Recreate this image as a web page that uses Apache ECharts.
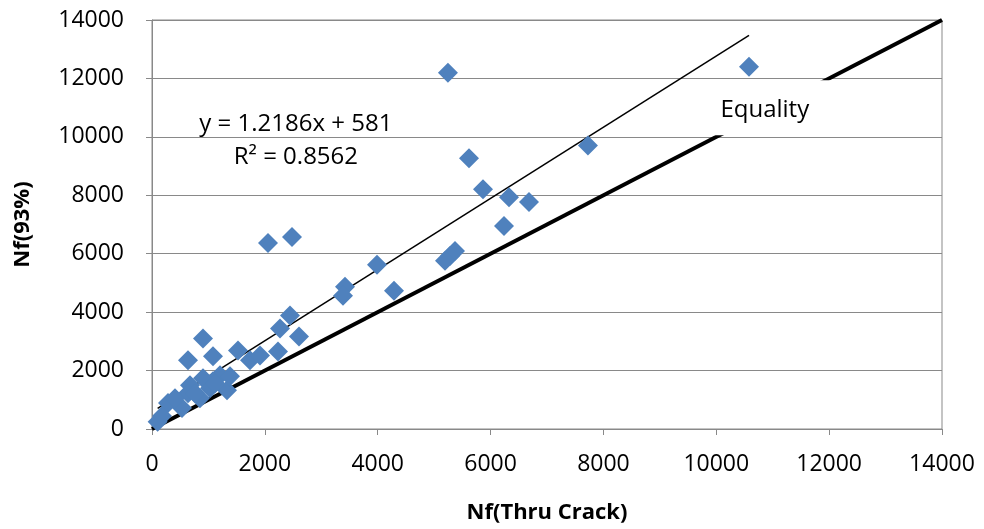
<!DOCTYPE html>
<html>
<head>
<meta charset="utf-8">
<script src="https://cdn.jsdelivr.net/npm/echarts@6/dist/echarts.min.js"></script>
<style>html,body{margin:0;padding:0;background:#fff}#c{width:984px;height:529px}</style>
</head>
<body>
<div id="c"></div>
<script>
// Nf(Thru Crack), Nf(93%)
const thruCrack = [10580, 5245, 7726, 5618, 5866, 6327, 6681, 6238, 2056, 2481, 5370, 5281, 5192, 3987, 3420, 3385, 4289, 2446, 2268, 2605, 904, 638, 1081, 1524, 1737, 1914, 2233, 673, 1205, 1081, 1329, 904, 100, 284, 532, 638, 850, 1028, 408, 177, 762, 1116, 1382];
const nf93 = [12398, 12194, 9707, 9264, 8208, 7936, 7766, 6948, 6369, 6574, 6097, 5926, 5756, 5620, 4871, 4564, 4734, 3883, 3440, 3168, 3100, 2350, 2486, 2691, 2350, 2520, 2657, 1499, 1839, 1635, 1328, 1737, 250, 886, 715, 1226, 1056, 1397, 1056, 443, 1226, 1567, 1805];
const trendSlope = 1.2186;
const trendIntercept = 581;
const trendRange = [100, 10580];
const equalityRange = [0, 14000];
const axisTicks = [0, 2000, 4000, 6000, 8000, 10000, 12000, 14000];

const points = thruCrack.map((x, i) => [x, nf93[i]]);
const trend = trendRange.map(x => [x, trendSlope * x + trendIntercept]);
const equality = equalityRange.map(x => [x, x]);
const font = '"Open Sans", "Noto Sans", sans-serif';

const chart = echarts.init(document.getElementById('c'));
chart.setOption({
  animation: false,
  backgroundColor: '#fff',
  grid: { left: 152, right: 42, top: 20, bottom: 98, show: true, borderColor: '#898989', borderWidth: 1 },
  xAxis: {
    type: 'value', min: axisTicks[0], max: axisTicks[axisTicks.length - 1], interval: 2000,
    name: 'Nf(Thru Crack)', nameLocation: 'middle', nameGap: 73,
    nameTextStyle: { fontFamily: font, fontWeight: 'bold', fontSize: 22, color: '#000' },
    axisLine: { lineStyle: { color: '#898989', width: 1 } },
    axisTick: { show: true, length: 6, lineStyle: { color: '#898989' } },
    axisLabel: { fontFamily: font, fontSize: 23, color: '#000', margin: 24, formatter: v => String(v) },
    splitLine: { show: false }
  },
  yAxis: {
    type: 'value', min: axisTicks[0], max: axisTicks[axisTicks.length - 1], interval: 2000,
    name: 'Nf(93%)', nameLocation: 'middle', nameGap: 118, nameRotate: 90,
    nameTextStyle: { fontFamily: font, fontWeight: 'bold', fontSize: 22, color: '#000' },
    axisLine: { show: true, lineStyle: { color: '#898989', width: 1 } },
    axisTick: { show: true, length: 6, lineStyle: { color: '#898989' } },
    axisLabel: { fontFamily: font, fontSize: 23, color: '#000', margin: 28, formatter: v => String(v) },
    splitLine: { show: true, lineStyle: { color: '#898989', width: 1 } }
  },
  series: [
    {
      type: 'line', data: equality, symbol: 'none', z: 2,
      lineStyle: { color: '#000', width: 4 },
      markPoint: {
        symbol: 'rect', symbolSize: [236, 55],
        itemStyle: { color: '#fff' },
        data: [{ coord: [11870, 11000] }],
        label: { show: true, formatter: 'Equality', position: 'inside', offset: [-57, 3],
          fontFamily: font, fontSize: 24, color: '#000' }
      }
    },
    {
      type: 'line', data: trend, symbol: 'none', z: 3,
      lineStyle: { color: '#000', width: 1.5 }
    },
    {
      type: 'scatter', data: points, symbol: 'diamond', symbolSize: 20, z: 4,
      itemStyle: { color: '#4f81bd', opacity: 1 }
    }
  ],
  graphic: []
});

// Trendline equation label, anchored to data coordinates
const p1 = chart.convertToPixel({ gridIndex: 0 }, [2550, 10450]);
const p2 = chart.convertToPixel({ gridIndex: 0 }, [2550, 9300]);
chart.setOption({
  graphic: [
    { type: 'text', x: p1[0], y: p1[1], style: { text: 'y = 1.2186x + 581', font: '24px ' + font, fill: '#000', align: 'center', verticalAlign: 'middle' }, z: 10 },
    { type: 'text', x: p2[0], y: p2[1], style: { text: 'R² = 0.8562', font: '24px ' + font, fill: '#000', align: 'center', verticalAlign: 'middle' }, z: 10 }
  ]
});
</script>
</body>
</html>
